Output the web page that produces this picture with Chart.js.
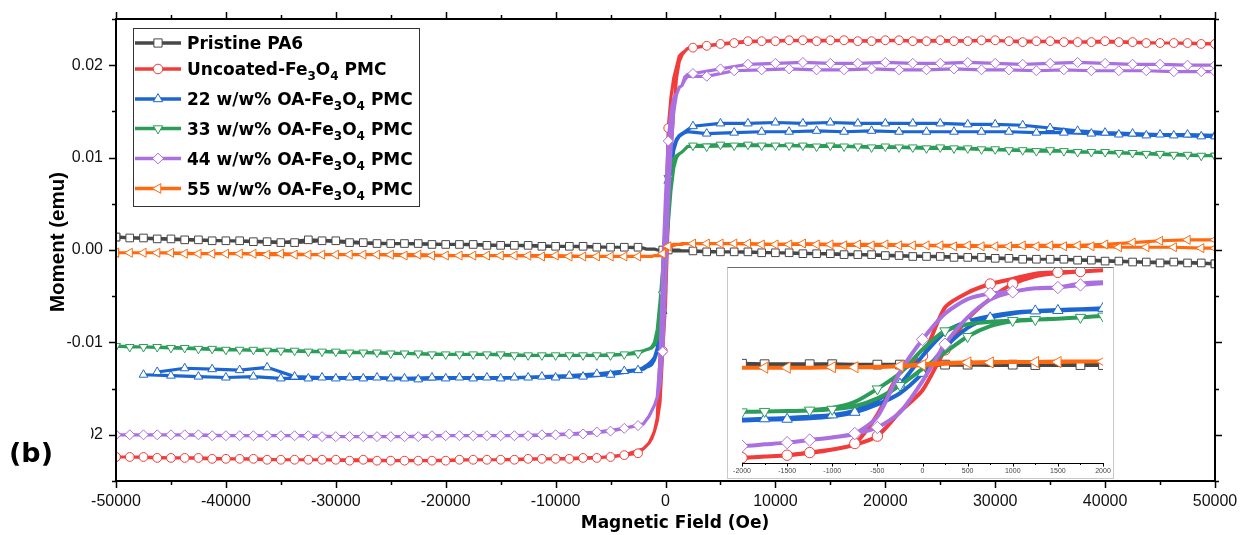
<!DOCTYPE html>
<html>
<head>
<meta charset="utf-8">
<title>Magnetic hysteresis of PA6 composites</title>
<script src="https://cdn.jsdelivr.net/npm/chart.js@4.4.1/dist/chart.umd.min.js"></script>
<style>
  body { margin: 0; background: #fff; }
  #wrap { position: relative; width: 1241px; height: 535px; background: #fff; }
  #main { position: absolute; left: 0; top: 0; }
  #insetBox {
    position: absolute; left: 727px; top: 267px; width: 387px; height: 212px;
    box-sizing: border-box; background: #fff;
    border: 1px solid #c9c9c9; border-top-color: #6a6a6a;
  }
  #inset { display: block; }
</style>
</head>
<body>
<div id="wrap">
  <canvas id="main" width="1241" height="535"></canvas>
  <div id="insetBox"><canvas id="inset" width="385" height="210"></canvas></div>
</div>
<script>
// field sweep (Oe): down branch +50 kOe -> -50 kOe, then up branch back to +50 kOe
const fieldDown = [
  50000, 47500, 45000, 42500, 40000, 37500, 35000, 32500, 30000, 27500,
  25000, 22500, 20000, 17500, 15000, 12500, 10000, 7500, 5000, 2500,
  2000, 1750, 1500, 1250, 1000, 750, 500, 250, 0, -250, -500, -750, -1000, -1250, -1500, -1750, -2000,
  -2500, -5000, -7500, -10000, -12500, -15000, -17500, -20000, -22500, -25000,
  -27500, -30000, -32500, -35000, -37500, -40000, -42500, -45000, -47500, -50000
];
const fieldUp = [
  -50000, -48750, -46250, -43750, -41250, -38750, -36250, -33750, -31250, -28750,
  -26250, -23750, -21250, -18750, -16250, -13750, -11250, -8750, -6250, -3750,
  -2000, -1750, -1500, -1250, -1000, -750, -500, -250, 0, 250, 500, 750, 1000, 1250, 1500, 1750, 2000,
  3750, 6250, 8750, 11250, 13750, 16250, 18750, 21250, 23750, 26250,
  28750, 31250, 33750, 36250, 38750, 41250, 43750, 46250, 48750, 50000
];

// moments in 1e-3 emu, same order as the field arrays
const pa6Down = [
  -1.5, -1.4, -1.4, -1.3, -1.2, -1.1, -1.0, -1.0, -0.9, -0.8, -0.7, -0.7, -0.6, -0.5, -0.4, -0.4, -0.3, -0.2, -0.2, -0.1,
  -0.1, -0.1, -0.1, 0, 0, 0, 0, 0, 0, 0, 0, 0, 0.1, 0.1, 0.1, 0.1, 0.2,
  0.3, 0.3, 0.4, 0.4, 0.5, 0.5, 0.6, 0.6, 0.7, 0.7, 0.8, 1.0, 1.1, 0.8, 0.9, 1.0, 1.1, 1.2, 1.3, 1.4
];
const pa6Up = [
  1.4, 1.3, 1.2, 1.1, 1.0, 1.0, 0.9, 0.8, 1.0, 0.8, 0.7, 0.7, 0.6, 0.6, 0.5, 0.5, 0.4, 0.4, 0.3, 0.3,
  0.2, 0.1, 0.1, 0.1, 0.1, 0, 0, 0, 0, 0, 0, -0.1, -0.1, -0.1, -0.1, -0.1, -0.1,
  -0.2, -0.2, -0.3, -0.3, -0.4, -0.5, -0.5, -0.6, -0.7, -0.8, -0.8, -0.9, -1.0, -1.0, -1.1, -1.2, -1.3, -1.3, -1.4, -1.5
];
const uncoatedDown = [
  22.3, 22.4, 22.4, 22.5, 22.6, 22.5, 22.6, 22.5, 22.7, 22.6, 22.7, 22.6, 22.7, 22.6, 22.7, 22.7, 22.6, 22.6, 22.3, 21.9,
  21.8, 21.5, 21.3, 21.0, 19.8, 18.6, 16.6, 13.2, 2.0, -1.8, -11.5, -18.2, -19.6, -20.4, -20.9, -21.2, -21.5,
  -22.0, -22.4, -22.5, -22.6, -22.6, -22.7, -22.7, -22.8, -22.8, -22.8, -22.7, -22.7, -22.7, -22.7, -22.6, -22.6, -22.5, -22.5, -22.4, -22.4
];
const uncoatedUp = [
  -22.4, -22.4, -22.5, -22.5, -22.6, -22.6, -22.7, -22.7, -22.7, -22.8, -22.8, -22.8, -22.8, -22.7, -22.7, -22.7, -22.6, -22.6, -22.5, -22.2,
  -21.5, -21.2, -20.9, -20.3, -19.6, -18.5, -16.5, -10.9, -5.9, 3.4, 10.5, 15.2, 18.6, 20.4, 21.1, 21.5, 21.8,
  22.1, 22.4, 22.6, 22.7, 22.6, 22.7, 22.6, 22.7, 22.6, 22.6, 22.7, 22.6, 22.6, 22.5, 22.5, 22.5, 22.4, 22.4, 22.3, 22.3
];
const oa22Down = [
  12.4, 12.5, 12.5, 12.6, 12.7, 12.9, 13.2, 13.5, 13.6, 13.6, 13.7, 13.7, 13.7, 13.7, 13.8, 13.7, 13.8, 13.7, 13.7, 13.4,
  13.0, 12.8, 12.6, 12.4, 12.0, 11.2, 10.0, 7.5, 2.0, -4.5, -8.2, -10.6, -11.6, -12.0, -12.3, -12.5, -12.7,
  -13.0, -13.5, -13.7, -13.8, -13.8, -13.9, -13.9, -13.9, -14.0, -13.9, -13.9, -13.9, -13.9, -13.9, -13.7, -13.8, -13.7, -13.6, -13.5, null
];
const oa22Up = [
  null, null, -13.2, -12.8, -12.9, -13.0, -12.7, -13.7, -13.8, -13.8, -13.8, -13.9, -13.8, -13.8, -13.8, -13.8, -13.7, -13.6, -13.4, -13.1,
  -12.9, -12.7, -12.6, -12.4, -11.9, -11.0, -9.2, -6.6, -2.0, 4.0, 8.5, 10.8, 11.8, 12.3, 12.5, 12.7, 12.8,
  12.6, 12.7, 12.8, 12.8, 12.9, 12.8, 12.9, 12.8, 12.8, 12.8, 12.8, 12.8, 12.7, 12.7, 12.6, 12.5, 12.4, 12.4, 12.3, 12.3
];
const oa33Down = [
  10.2, 10.3, 10.4, 10.5, 10.6, 10.6, 10.8, 10.8, 10.9, 11.0, 11.1, 11.1, 11.2, 11.2, 11.3, 11.3, 11.3, 11.4, 11.4, 11.3,
  11.2, 10.9, 10.6, 10.4, 10.2, 9.9, 9.3, 7.8, 3.5, -2.0, -5.6, -8.6, -10.0, -10.5, -10.7, -10.8, -10.9,
  -11.2, -11.4, -11.4, -11.4, -11.4, -11.3, -11.3, -11.3, -11.2, -11.2, -11.1, -11.0, -11.0, -10.9, -10.8, -10.8, -10.7, -10.6, -10.5, -10.4
];
const oa33Up = [
  -10.4, -10.5, -10.5, -10.6, -10.7, -10.8, -10.9, -10.9, -11.0, -11.1, -11.1, -11.2, -11.3, -11.3, -11.3, -11.4, -11.4, -11.4, -11.4, -11.3,
  -10.9, -10.8, -10.7, -10.6, -10.3, -9.6, -7.8, -4.8, -1.0, 2.8, 6.5, 8.9, 10.0, 10.4, 10.6, 10.9, 11.2,
  11.2, 11.3, 11.3, 11.3, 11.2, 11.2, 11.1, 11.1, 11.0, 11.0, 10.9, 10.8, 10.7, 10.7, 10.6, 10.5, 10.4, 10.3, 10.2, 10.2
];
const oa44Down = [
  20.0, 20.0, 20.1, 20.1, 20.2, 20.3, 20.2, 20.1, 20.2, 20.3, 20.2, 20.2, 20.3, 20.2, 20.2, 20.3, 20.2, 20.1, 19.6, 19.1,
  19.0, 18.7, 17.8, 17.6, 16.9, 16.4, 15.1, 11.8, 5.8, -1.7, -12.0, -15.9, -16.8, -17.4, -18.0, -18.4, -18.8,
  -19.0, -19.6, -19.9, -20.0, -20.1, -20.1, -20.1, -20.1, -20.2, -20.2, -20.2, -20.2, -20.1, -20.1, -20.1, -20.1, -20.0, -20.0, -20.0, -20.0
];
const oa44Up = [
  -20.0, -20.0, -20.0, -20.0, -20.1, -20.1, -20.1, -20.1, -20.2, -20.2, -20.2, -20.2, -20.1, -20.1, -20.1, -20.1, -20.0, -19.9, -19.7, -19.3,
  -18.8, -18.4, -18.0, -17.4, -16.8, -16.0, -14.5, -11.0, -3.8, 4.7, 10.9, 15.0, 16.8, 17.6, 17.8, 18.4, 18.8,
  18.8, 19.4, 19.5, 19.6, 19.5, 19.5, 19.6, 19.5, 19.5, 19.6, 19.5, 19.5, 19.4, 19.5, 19.4, 19.4, 19.4, 19.3, 19.3, 19.3
];
const oa55Down = [
  1.1, 1.1, 1.0, 0.8, 0.6, 0.5, 0.5, 0.5, 0.4, 0.5, 0.5, 0.5, 0.6, 0.6, 0.6, 0.7, 0.6, 0.7, 0.7, 0.7,
  0.7, 0.7, 0.7, 0.6, 0.6, 0.6, 0.5, 0.4, 0.1, -0.3, -0.5, -0.6, -0.6, -0.7, -0.7, -0.7, -0.7,
  -0.7, -0.7, -0.7, -0.6, -0.6, -0.6, -0.6, -0.6, -0.5, -0.5, -0.5, -0.5, -0.5, -0.4, -0.4, -0.4, -0.4, -0.3, -0.3, -0.3
];
const oa55Up = [
  -0.3, -0.3, -0.3, -0.4, -0.4, -0.4, -0.5, -0.5, -0.5, -0.5, -0.5, -0.6, -0.6, -0.6, -0.6, -0.6, -0.7, -0.7, -0.7, -0.7,
  -0.7, -0.7, -0.7, -0.7, -0.6, -0.6, -0.6, -0.4, -0.1, 0.2, 0.4, 0.5, 0.6, 0.6, 0.6, 0.7, 0.7,
  0.7, 0.7, 0.6, 0.6, 0.6, 0.5, 0.5, 0.5, 0.5, 0.4, 0.4, 0.4, 0.4, 0.4, 0.4, 0.3, 0.3, 0.3, 0.2, 0.2
];

// "_n" marks a subscript digit
const sampleNames = [
  'Pristine PA6',
  'Uncoated-Fe_3O_4 PMC',
  '22 w/w% OA-Fe_3O_4 PMC',
  '33 w/w% OA-Fe_3O_4 PMC',
  '44 w/w% OA-Fe_3O_4 PMC',
  '55 w/w% OA-Fe_3O_4 PMC'
];
const loops = [
  [pa6Down, pa6Up], [uncoatedDown, uncoatedUp], [oa22Down, oa22Up],
  [oa33Down, oa33Up], [oa44Down, oa44Up], [oa55Down, oa55Up]
];

const fieldTicks = [-50000, -40000, -30000, -20000, -10000, 0, 10000, 20000, 30000, 40000, 50000];
const momentTicks = [-0.02, -0.01, 0, 0.01, 0.02];
const insetFieldTicks = [-2000, -1500, -1000, -500, 0, 500, 1000, 1500, 2000];

const sampleColors = ['#474747', '#f13c3c', '#1d66d2', '#2b9d58', '#aa70e0', '#ff6a10'];
// r: main plot marker radius, ri: inset marker radius
const markers = [
  { style: 'rect', rotation: 0, r: 5.4, ri: 6.2 },
  { style: 'circle', rotation: 0, r: 4.4, ri: 5.2 },
  { style: 'triangle', rotation: 0, r: 5, ri: 6 },
  { style: 'triangle', rotation: 180, r: 5, ri: 6 },
  { style: 'rectRot', rotation: 0, r: 5, ri: 6.2 },
  { style: 'triangle', rotation: 270, r: 5.2, ri: 6.4 }
];

function loopPoints(down, up) {
  const pts = [];
  down.forEach((m, i) => pts.push({ x: fieldDown[i], y: m == null ? null : m / 1000 }));
  up.forEach((m, i) => pts.push({ x: fieldUp[i], y: m == null ? null : m / 1000 }));
  return pts;
}

const tickFont = { family: 'Liberation Sans', size: 16 };

// ---------- main chart ----------
const mainSets = sampleNames.map((name, i) => ({
  label: name,
  data: loopPoints(loops[i][0], loops[i][1]),
  order: sampleNames.length - i,
  borderColor: sampleColors[i],
  borderWidth: 3.2,
  tension: 0,
  spanGaps: false,
  pointStyle: markers[i].style,
  pointRotation: markers[i].rotation,
  pointBackgroundColor: '#fff',
  pointBorderColor: sampleColors[i],
  pointBorderWidth: 1,
  pointRadius: ctx => {
    if (!ctx.raw) return markers[i].r;
    const h = ctx.raw.x;
    const down = ctx.dataIndex < fieldDown.length;
    if (Math.abs(h) >= 2500) return markers[i].r;
    return (down && h === 250) || (!down && h === -250) ? markers[i].r : 0;
  }
}));

function drawRich(ctx, text, x, y, size, subSize) {
  text.split(/_(\d)/).forEach((part, k) => {
    if (k % 2) {
      ctx.font = 'bold ' + subSize + 'px "DejaVu Sans"';
      ctx.fillText(part, x, y + 5);
    } else {
      ctx.font = 'bold ' + size + 'px "DejaVu Sans"';
      ctx.fillText(part, x, y);
    }
    x += ctx.measureText(part).width;
  });
}

const mainDecor = {
  id: 'mainDecor',
  afterDatasetsDraw(chart) {
    const { ctx, chartArea: a, scales: { x, y } } = chart;
    ctx.save();
    ctx.strokeStyle = '#000';
    ctx.lineWidth = 1.5;
    ctx.beginPath();
    for (let k = -10; k <= 10; k++) {
      const px = Math.round(x.getPixelForValue(k * 5000)) + 0.5;
      const len = k % 2 === 0 ? 7 : 4;
      ctx.moveTo(px, a.bottom); ctx.lineTo(px, a.bottom + len);
      ctx.moveTo(px, a.top); ctx.lineTo(px, a.top - len);
    }
    for (let k = -5; k <= 5; k++) {
      const py = Math.round(y.getPixelForValue(k * 0.005)) + 0.5;
      const len = k % 2 === 0 ? 7 : 4;
      ctx.moveTo(a.left, py); ctx.lineTo(a.left - len, py);
      ctx.moveTo(a.right, py); ctx.lineTo(a.right + len, py);
    }
    ctx.stroke();
    ctx.lineWidth = 2;
    ctx.strokeRect(a.left, a.top, a.right - a.left, a.bottom - a.top);
    ctx.restore();
  },
  afterDraw(chart) {
    const { ctx } = chart;
    ctx.save();
    // panel letter sits on a white patch over the lowest tick label
    ctx.fillStyle = '#fff';
    ctx.fillRect(0, 405, 91, 75);
    ctx.fillStyle = '#000';
    ctx.textBaseline = 'alphabetic';
    ctx.textAlign = 'left';
    ctx.font = 'bold 27px "DejaVu Sans"';
    ctx.fillText('(b)', 9, 462);

    // axis titles
    ctx.textAlign = 'center';
    ctx.font = 'bold 17px "DejaVu Sans"';
    ctx.fillText('Magnetic Field (Oe)', 675, 528);
    ctx.save();
    ctx.translate(63.5, 242);
    ctx.rotate(-Math.PI / 2);
    ctx.font = 'bold 20.5px "Liberation Sans"';
    ctx.fillText('Moment (emu)', 0, 0);
    ctx.restore();

    // legend
    ctx.fillStyle = '#fff';
    ctx.fillRect(133.5, 28.5, 286, 178);
    ctx.strokeStyle = '#333';
    ctx.lineWidth = 1;
    ctx.strokeRect(133.5, 28.5, 286, 178);
    const rowsY = [43, 69, 99, 128.5, 158.5, 188.5];
    sampleNames.forEach((name, i) => {
      const ly = rowsY[i];
      ctx.strokeStyle = sampleColors[i];
      ctx.lineWidth = 3.5;
      ctx.beginPath();
      ctx.moveTo(135, ly); ctx.lineTo(181, ly);
      ctx.stroke();
      ctx.fillStyle = '#fff';
      ctx.lineWidth = 1;
      Chart.helpers.drawPoint(ctx, {
        pointStyle: markers[i].style, rotation: markers[i].rotation,
        radius: markers[i].r + 0.4, borderWidth: 1
      }, 158, ly);
      ctx.fillStyle = '#000';
      ctx.textAlign = 'left';
      drawRich(ctx, name, 187, ly + 6.2, 17, 12);
    });
    ctx.restore();
  }
};

new Chart(document.getElementById('main'), {
  type: 'line',
  data: { datasets: mainSets },
  options: {
    responsive: false,
    animation: false,
    devicePixelRatio: 1,
    events: [],
    layout: { padding: { left: 0, right: 26, top: 19, bottom: 0 } },
    plugins: { legend: { display: false }, tooltip: { enabled: false } },
    scales: {
      x: {
        type: 'linear', min: -50000, max: 50000,
        afterBuildTicks: s => { s.ticks = fieldTicks.map(v => ({ value: v })); },
        afterFit: s => { s.height = 54; s.paddingLeft = 0; s.paddingRight = 0; },
        grid: { display: false, drawTicks: false },
        border: { display: false },
        ticks: { font: tickFont, color: '#111', padding: 11, maxRotation: 0, autoSkip: false, callback: v => String(v) }
      },
      y: {
        type: 'linear', min: -0.025, max: 0.025,
        afterBuildTicks: s => { s.ticks = momentTicks.map(v => ({ value: v })); },
        afterFit: s => { s.width = 116; s.paddingTop = 0; s.paddingBottom = 0; },
        grid: { display: false, drawTicks: false },
        border: { display: false },
        ticks: { font: tickFont, color: '#111', padding: 13, autoSkip: false, callback: v => v.toFixed(2) }
      }
    }
  },
  plugins: [mainDecor]
});

// ---------- inset: low-field zoom of the same loops ----------
const insetSets = sampleNames.map((name, i) => ({
  label: name,
  data: loopPoints(loops[i][0], loops[i][1]),
  order: sampleNames.length - i,
  borderColor: sampleColors[i],
  borderWidth: 4,
  tension: 0.25,
  spanGaps: false,
  clip: { left: 0, right: 0, top: 8, bottom: 0 },
  pointStyle: markers[i].style,
  pointRotation: markers[i].rotation,
  pointBackgroundColor: '#fff',
  pointBorderColor: sampleColors[i],
  pointBorderWidth: 1,
  pointRadius: ctx => {
    if (!ctx.raw) return 0;
    const h = ctx.raw.x;
    if (Math.abs(h) > 2000) return 0;
    const down = ctx.dataIndex < fieldDown.length;
    return (h / 250 + 8 + i + (down ? 0 : 2)) % 3 === 0 ? markers[i].ri : 0;
  }
}));

const insetAxis = {
  id: 'insetAxis',
  afterDatasetsDraw(chart) {
    const { ctx, chartArea: a, scales: { x } } = chart;
    ctx.save();
    ctx.strokeStyle = '#000';
    ctx.lineWidth = 1;
    ctx.beginPath();
    ctx.moveTo(a.left, a.bottom + 0.5); ctx.lineTo(a.right, a.bottom + 0.5);
    for (let k = -8; k <= 8; k++) {
      const px = Math.round(x.getPixelForValue(k * 250)) + 0.5;
      ctx.moveTo(px, a.bottom); ctx.lineTo(px, a.bottom + (k % 2 === 0 ? 3.5 : 2));
    }
    ctx.stroke();
    ctx.restore();
  }
};

new Chart(document.getElementById('inset'), {
  type: 'line',
  data: { datasets: insetSets },
  options: {
    responsive: false,
    animation: false,
    devicePixelRatio: 1,
    events: [],
    layout: { padding: { left: 14, right: 10, top: 0, bottom: 0 } },
    plugins: { legend: { display: false }, tooltip: { enabled: false } },
    scales: {
      x: {
        type: 'linear', min: -2000, max: 2000,
        afterBuildTicks: s => { s.ticks = insetFieldTicks.map(v => ({ value: v })); },
        afterFit: s => { s.height = 15; s.paddingLeft = 0; s.paddingRight = 0; },
        grid: { display: false, drawTicks: false },
        border: { display: false },
        ticks: { font: { family: 'Liberation Sans', size: 7 }, color: '#444', padding: 4, maxRotation: 0, autoSkip: false, callback: v => String(v) }
      },
      y: { type: 'linear', display: false, min: -0.0227, max: 0.0223 }
    }
  },
  plugins: [insetAxis]
});
</script>
</body>
</html>
